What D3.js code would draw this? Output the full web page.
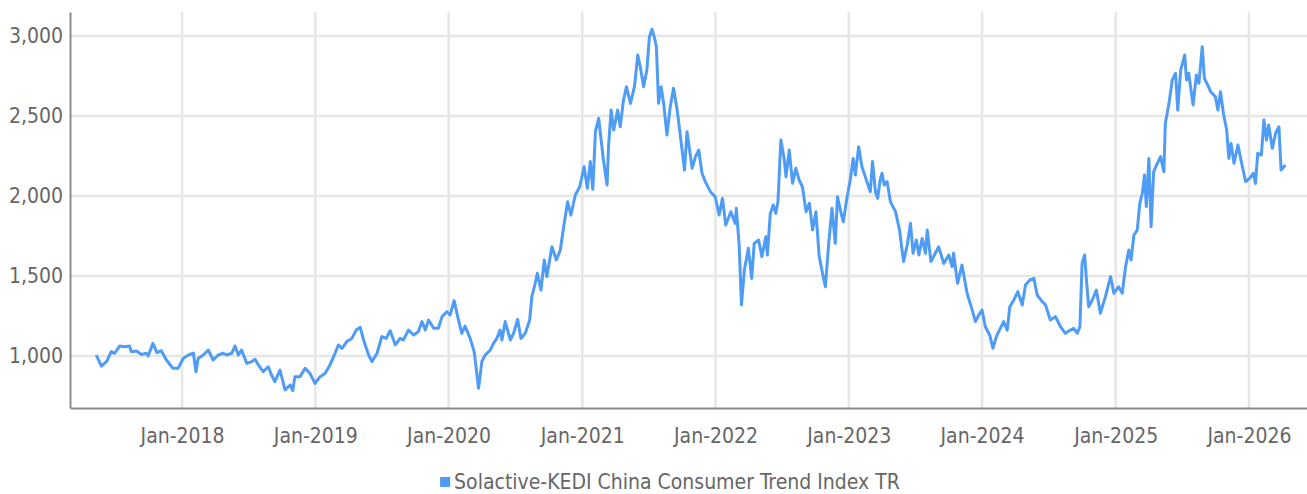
<!DOCTYPE html>
<html>
<head>
<meta charset="utf-8">
<script src="https://cdn.jsdelivr.net/npm/d3@7"></script>
<style>
  body { margin: 0; background: #fff; }
  svg text { font-family: "Liberation Sans Narrow", "DejaVu Sans Condensed", sans-serif; fill: #666; }
</style>
</head>
<body>
<div id="chart"></div>
<script>
var seriesName = "Solactive-KEDI China Consumer Trend Index TR"

var dates = [
  "2017-05-11","2017-05-25","2017-06-08","2017-06-21","2017-06-30","2017-07-14","2017-07-28","2017-08-10","2017-08-15","2017-08-29",
  "2017-09-12","2017-09-25","2017-09-30","2017-10-13","2017-10-24","2017-11-05","2017-11-19","2017-12-07","2017-12-21","2018-01-04",
  "2018-01-18","2018-02-01","2018-02-08","2018-02-14","2018-02-28","2018-03-14","2018-03-27","2018-04-10","2018-04-24","2018-05-03",
  "2018-05-17","2018-05-26","2018-06-04","2018-06-13","2018-06-27","2018-07-11","2018-07-20","2018-07-29","2018-08-11","2018-08-25",
  "2018-09-03","2018-09-12","2018-09-26","2018-10-10","2018-10-24","2018-10-31","2018-11-06","2018-11-20","2018-12-04","2018-12-17",
  "2018-12-31","2019-01-14","2019-01-28","2019-02-10","2019-02-24","2019-03-05","2019-03-15","2019-03-28","2019-04-11","2019-04-23",
  "2019-05-04","2019-05-13","2019-05-27","2019-06-05","2019-06-19","2019-07-02","2019-07-14","2019-07-25","2019-08-08","2019-08-21",
  "2019-08-30","2019-09-13","2019-09-27","2019-10-10","2019-10-20","2019-10-29","2019-11-07","2019-11-21","2019-12-04","2019-12-14",
  "2019-12-27","2020-01-05","2020-01-16","2020-01-28","2020-02-06","2020-02-15","2020-02-29","2020-03-11","2020-03-23","2020-04-01",
  "2020-04-10","2020-04-24","2020-05-03","2020-05-12","2020-05-21","2020-05-26","2020-06-04","2020-06-18","2020-06-27","2020-07-08",
  "2020-07-17","2020-07-29","2020-08-10","2020-08-16","2020-08-25","2020-08-31","2020-09-10","2020-09-19","2020-09-26","2020-10-10",
  "2020-10-22","2020-11-02","2020-11-09","2020-11-22","2020-12-01","2020-12-13","2020-12-25","2021-01-06","2021-01-15","2021-01-23",
  "2021-01-30","2021-02-06","2021-02-15","2021-02-28","2021-03-10","2021-03-14","2021-03-21","2021-03-28","2021-04-08","2021-04-15",
  "2021-04-24","2021-05-02","2021-05-13","2021-05-24","2021-06-02","2021-06-09","2021-06-18","2021-06-27","2021-07-04","2021-07-11",
  "2021-07-17","2021-07-23","2021-07-29","2021-08-05","2021-08-12","2021-08-21","2021-08-30","2021-09-08","2021-09-18","2021-09-27",
  "2021-10-08","2021-10-15","2021-10-29","2021-11-07","2021-11-16","2021-11-25","2021-12-04","2021-12-18","2021-12-31","2022-01-11",
  "2022-01-20","2022-01-29","2022-02-12","2022-02-24","2022-02-27","2022-03-07","2022-03-13","2022-03-21","2022-04-01","2022-04-10",
  "2022-04-17","2022-04-29","2022-05-08","2022-05-19","2022-05-23","2022-05-31","2022-06-08","2022-06-15","2022-06-21","2022-06-29",
  "2022-07-08","2022-07-13","2022-07-22","2022-07-31","2022-08-09","2022-08-18","2022-08-27","2022-09-06","2022-09-15","2022-09-24",
  "2022-10-03","2022-10-12","2022-10-21","2022-10-29","2022-11-07","2022-11-16","2022-11-25","2022-12-01","2022-12-11","2022-12-17",
  "2022-12-26","2023-01-05","2023-01-13","2023-01-19","2023-01-28","2023-02-06","2023-02-15","2023-03-01","2023-03-07","2023-03-15",
  "2023-03-21","2023-03-28","2023-04-02","2023-04-08","2023-04-16","2023-04-25","2023-05-09","2023-05-20","2023-05-31","2023-06-10",
  "2023-06-19","2023-06-26","2023-07-05","2023-07-12","2023-07-21","2023-07-30","2023-08-04","2023-08-14","2023-08-26","2023-09-04",
  "2023-09-18","2023-10-02","2023-10-11","2023-10-15","2023-10-26","2023-11-07","2023-11-21","2023-12-05","2023-12-14","2023-12-23",
  "2024-01-01","2024-01-10","2024-01-22","2024-01-31","2024-02-09","2024-02-20","2024-02-29","2024-03-10","2024-03-17","2024-03-28",
  "2024-04-08","2024-04-20","2024-04-29","2024-05-11","2024-05-22","2024-05-31","2024-06-14","2024-06-23","2024-07-06","2024-07-20",
  "2024-08-03","2024-08-16","2024-08-30","2024-09-08","2024-09-18","2024-09-25","2024-10-01","2024-10-08","2024-10-13","2024-10-19",
  "2024-10-29","2024-11-09","2024-11-20","2024-12-04","2024-12-18","2024-12-27","2025-01-09","2025-01-19","2025-01-28","2025-02-06",
  "2025-02-12","2025-02-20","2025-03-01","2025-03-08","2025-03-15","2025-03-21","2025-03-26","2025-04-02","2025-04-08","2025-04-15",
  "2025-04-25","2025-05-04","2025-05-13","2025-05-17","2025-05-27","2025-06-05","2025-06-14","2025-06-20","2025-06-28","2025-07-09",
  "2025-07-14","2025-07-20","2025-08-01","2025-08-10","2025-08-17","2025-08-26","2025-09-01","2025-09-10","2025-09-18","2025-10-01",
  "2025-10-08","2025-10-15","2025-10-23","2025-11-01","2025-11-07","2025-11-13","2025-11-21","2025-12-02","2025-12-14","2025-12-23",
  "2026-01-03","2026-01-13","2026-01-19","2026-01-25","2026-02-04","2026-02-11","2026-02-18","2026-02-24","2026-03-06","2026-03-15",
  "2026-03-24","2026-03-30","2026-04-11"
]

var values = [
  1006, 937, 965,1027,1017,1062,1058,1062,1027,1031,
  1010,1017,1000,1079,1021,1033, 975, 923, 923, 985,
  1006,1017, 902, 985,1006,1037, 975,1006,1017,1006,
  1017,1062,1006,1037, 954, 965, 979, 944, 902, 933,
   881, 840, 912, 788, 819, 783, 871, 871, 923, 892,
   829, 871, 892, 944,1017,1069,1048,1090,1110,1162,
  1179,1100,1006, 965,1017,1121,1110,1158,1069,1110,
  1100,1162,1131,1152,1215,1162,1225,1173,1173,1246,
  1277,1256,1346,1225,1142,1187,1110,1027, 798, 965,
  1006,1037,1079,1110,1162,1100,1215,1100,1142,1229,
  1110,1142,1225,1371,1454,1517,1412,1600,1496,1683,
  1600,1662,1777,1964,1881,2006,2058,2183,2048,2215,
  2042,2402,2485,2225,2069,2308,2537,2412,2537,2433,
  2600,2683,2579,2683,2881,2808,2683,2787,2996,3042,
  2996,2933,2579,2683,2579,2381,2558,2673,2537,2371,
  2162,2402,2173,2246,2287,2142,2090,2027,1996,1881,
  1985,1819,1902,1829,1923,1683,1319,1537,1673,1485,
  1704,1725,1621,1746,1631,1891,1944,1891,1964,2350,
  2235,2120,2287,2079,2173,2100,2058,1902,1954,1787,
  1902,1621,1517,1433,1704,1923,1704,1996,1891,1839,
  1975,2100,2235,2131,2308,2183,2121,2027,2215,2027,
  1985,2100,2142,2069,2090,1964,1902,1787,1590,1694,
  1829,1642,1725,1631,1735,1642,1787,1590,1642,1683,
  1579,1631,1558,1642,1454,1569,1392,1287,1215,1256,
  1287,1183,1131,1048,1121,1173,1215,1162,1308,1350,
  1402,1319,1444,1475,1485,1381,1340,1319,1225,1246,
  1183,1142,1162,1173,1142,1183,1579,1631,1475,1308,
  1350,1412,1267,1371,1496,1392,1433,1392,1558,1662,
  1600,1756,1787,1954,2017,2131,1933,2235,1808,2152,
  2204,2246,2152,2454,2579,2725,2767,2537,2787,2881,
  2725,2767,2569,2756,2704,2933,2735,2694,2652,2621,
  2537,2652,2517,2412,2235,2329,2204,2319,2183,2090,
  2110,2142,2079,2267,2256,2475,2350,2444,2298,2392,
  2433,2162,2194
]

var yTicks = [1000, 1500, 2000, 2500, 3000]
var xTicks = ["2018-01-01","2019-01-01","2020-01-01","2021-01-01","2022-01-01","2023-01-01","2024-01-01","2025-01-01","2026-01-01"]
var xDomain = ["2017-02-28", "2026-06-09"]
var yDomain = [675, 3150]

var svgSize = { width: 1307, height: 494 }
var margin = { top: 12, bottom: 86, left: 70, right: 0 }
var chartSize = {
    width: svgSize.width - margin.left - margin.right,
    height: svgSize.height - margin.top - margin.bottom
}

var parse = d3.timeParse("%Y-%m-%d")
var data = dates.map((d, i) => ({ date: parse(d), value: values[i] }))

var svg = d3.select("#chart")
    .append("svg")
    .attr("width", svgSize.width)
    .attr("height", svgSize.height)

var frame = svg.append("g")
    .attr("transform", `translate(${margin.left}, ${margin.top})`)

var xScale = d3.scaleTime()
    .domain(xDomain.map(parse))
    .range([0, chartSize.width])

var yScale = d3.scaleLinear()
    .domain(yDomain)
    .range([chartSize.height, 0])

// grid
frame.append("g").attr("class", "grid")
    .selectAll("line.h")
    .data(yTicks)
    .enter().append("line")
    .attr("x1", 0).attr("x2", chartSize.width)
    .attr("y1", d => yScale(d)).attr("y2", d => yScale(d))
    .attr("stroke", "#e6e6e6").attr("stroke-width", 2.5)

frame.append("g").attr("class", "grid")
    .selectAll("line.v")
    .data(xTicks.map(parse))
    .enter().append("line")
    .attr("x1", d => xScale(d)).attr("x2", d => xScale(d))
    .attr("y1", 0).attr("y2", chartSize.height)
    .attr("stroke", "#e6e6e6").attr("stroke-width", 2.5)

// axes
var bottomAxis = d3.axisBottom(xScale)
    .tickValues(xTicks.map(parse))
    .tickFormat(d3.timeFormat("%b-%Y"))
    .tickSize(0).tickPadding(20)
var leftAxis = d3.axisLeft(yScale)
    .tickValues(yTicks)
    .tickFormat(d3.format(","))
    .tickSize(0).tickPadding(7)

var xAxis = frame.append("g").attr("transform", `translate(0, ${chartSize.height})`).call(bottomAxis)
var yAxis = frame.append("g").call(leftAxis)
xAxis.select(".domain").attr("stroke", "#8c8c8c").attr("stroke-width", 2)
yAxis.select(".domain").attr("stroke", "#8c8c8c").attr("stroke-width", 2)
xAxis.selectAll("text").attr("font-size", 21).attr("fill", "#666")
yAxis.selectAll("text").attr("font-size", 21).attr("fill", "#666")

// line
var line = d3.line()
    .x(d => xScale(d.date))
    .y(d => yScale(d.value))

frame.append("path")
    .datum(data)
    .attr("fill", "none")
    .attr("stroke", "#4f9cf6")
    .attr("stroke-width", 3)
    .attr("stroke-linejoin", "round")
    .attr("d", line)

// legend
var legend = svg.append("g").attr("transform", "translate(677, 482)")
var legendText = legend.append("text")
    .attr("x", 0).attr("y", 0)
    .attr("dy", "0.35em")
    .attr("text-anchor", "middle")
    .attr("font-size", 21)
    .text(seriesName)
var bb = legendText.node().getBBox()
legend.append("rect")
    .attr("x", bb.x - 14).attr("y", -5)
    .attr("width", 10).attr("height", 10)
    .attr("fill", "#4f9cf6")
</script>
</body>
</html>
